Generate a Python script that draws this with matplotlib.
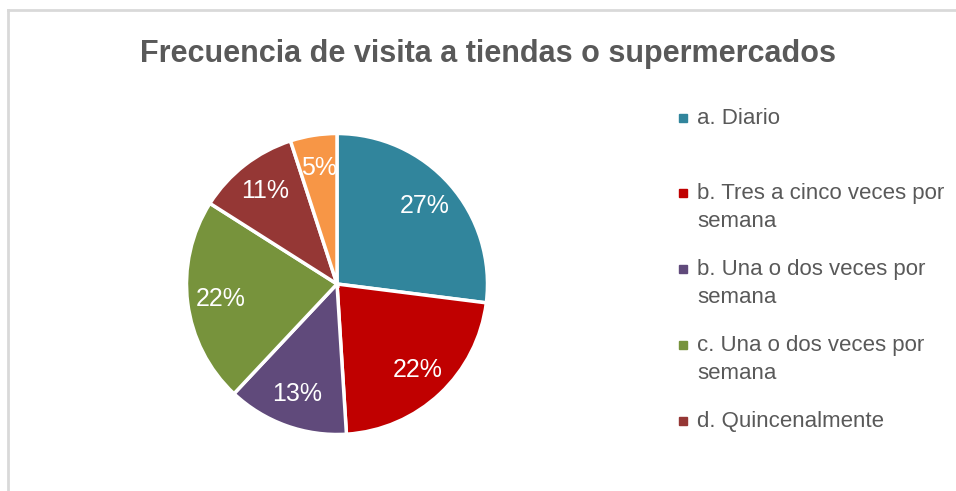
import numpy as np
import matplotlib.pyplot as plt
from matplotlib.lines import Line2D
from matplotlib.patches import Rectangle

plt.rcParams['font.family'] = ['Liberation Sans', 'DejaVu Sans']

categorias = ["a. Diario",
              "b. Tres a cinco veces por\nsemana",
              "b. Una o dos veces por\nsemana",
              "c. Una o dos veces por\nsemana",
              "d. Quincenalmente",
              "e. Mensualmente"]
porcentajes = [27, 22, 13, 22, 11, 5]
colores = ["#31859C", "#C00000", "#604A7B", "#77933C", "#953735", "#F79646"]

fig = plt.figure(figsize=(9.56, 4.91), dpi=100)

# marco del grafico (solo arriba e izquierda visibles)
fig.add_artist(Line2D([8 / 956, 1], [1 - 10 / 491, 1 - 10 / 491], color="#D9D9D9", lw=2))
fig.add_artist(Line2D([8 / 956, 8 / 956], [0, 1 - 10 / 491], color="#D9D9D9", lw=2))

fig.text(488 / 956, 1 - 54 / 491, "Frecuencia de visita a tiendas o supermercados",
         ha="center", va="center", fontsize=22, fontweight="bold", color="#595959")

# pie: centro ~ (337, 285), radio ~151 px
r = 152
ax = fig.add_axes([(337 - r) / 956, (491 - 284 - r) / 491, 2 * r / 956, 2 * r / 491])
wedges, texts = ax.pie(porcentajes, colors=colores, startangle=90, counterclock=False,
                       wedgeprops=dict(edgecolor="white", linewidth=2.5))
ax.set_xlim(-1.01, 1.01)
ax.set_ylim(-1.01, 1.01)
ax.set_aspect("equal")

# etiquetas de porcentaje
for w, p in zip(wedges, porcentajes):
    mid = np.deg2rad((w.theta1 + w.theta2) / 2)
    d = 0.78
    ax.text(d * np.cos(mid), d * np.sin(mid), f"{p}%", ha="center", va="center",
            color="white", fontsize=18)

# leyenda (la sexta entrada queda recortada en el original)
ys = [118, 193, 269, 345, 421]
for y, cat, col in zip(ys, categorias[:5], colores[:5]):
    fig.add_artist(Rectangle((679 / 956, 1 - (y + 4) / 491), 8 / 956, 8 / 491,
                             color=col, transform=fig.transFigure))
    fig.text(697 / 956, 1 - (y - 10) / 491, cat, ha="left", va="top",
             fontsize=16, color="#595959", linespacing=1.45)

fig.savefig("out.png", dpi=100)
